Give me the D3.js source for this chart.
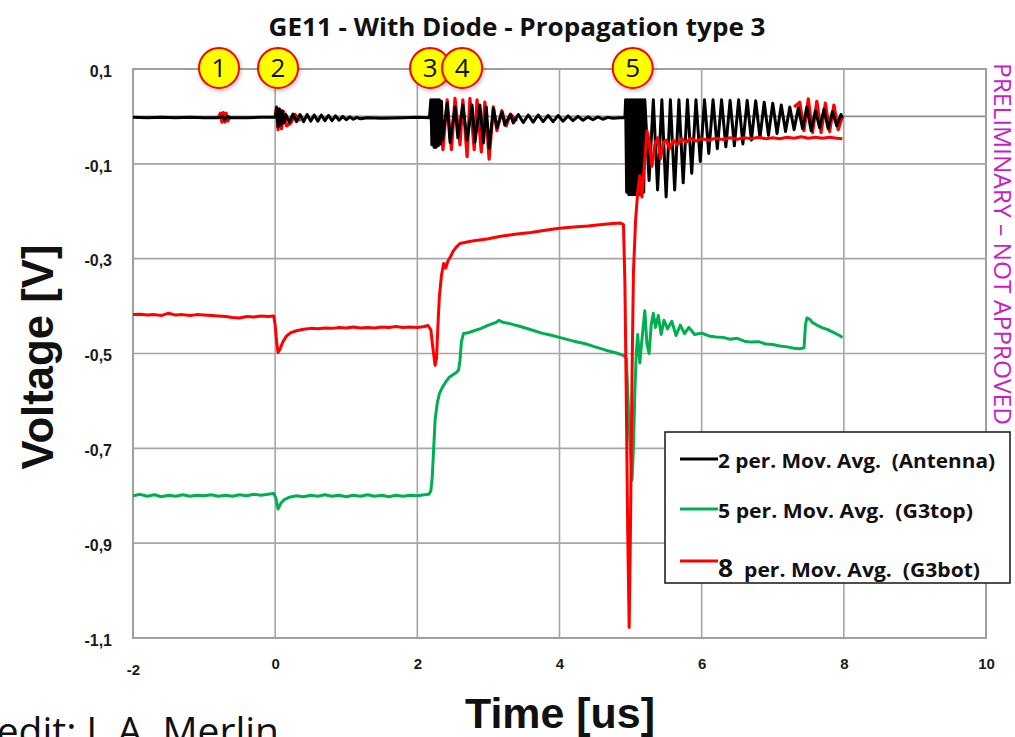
<!DOCTYPE html>
<html><head><meta charset="utf-8">
<script src="https://cdn.jsdelivr.net/npm/d3@7"></script>
<style>body{margin:0;background:#fff;} svg{display:block;} text{white-space:pre;}</style>
</head><body><svg id="c" width="1015" height="737"></svg>
<script>
// ---------- data ----------
const xTicks = [-2, 0, 2, 4, 6, 8, 10];
const yTicks = [0.1, -0.1, -0.3, -0.5, -0.7, -0.9, -1.1];
const title = "GE11 - With Diode - Propagation type 3";
const seriesNames = ["2 per. Mov. Avg.  (Antenna)", "5 per. Mov. Avg.  (G3top)", "8  per. Mov. Avg.  (G3bot)"];
const markerLabels = ["1", "2", "3", "4", "5"];
const markerTimes = [-0.79, 0.04, 2.18, 2.63, 5.03];

// 2 per. Mov. Avg. (Antenna) [time us, volts]
const antennaAvg = [
 [-2,-0.002],[-1.8,-0.003],[-1.6,-0.002],[-1.4,-0.003],[-1.2,-0.002],[-1.0,-0.003],[-0.8,-0.003],[-0.74,0.0],[-0.71,-0.006],[-0.67,0.0],[-0.63,-0.003],[-0.4,-0.003],[-0.2,-0.002],[0.0,-0.002],
 [0.02,0.018],[0.04,-0.022],[0.06,0.015],[0.08,-0.018],[0.10,0.012],[0.12,-0.014],[0.15,0.004],
 [0.2,-0.012],[0.25,0.005],[0.3,-0.011],[0.35,0.004],[0.4,-0.011],[0.45,0.004],[0.5,-0.010],[0.55,0.003],[0.6,-0.010],[0.65,0.003],[0.7,-0.009],[0.75,0.002],[0.8,-0.009],[0.85,0.001],[0.9,-0.008],[0.95,0.0],[1.0,-0.007],[1.05,-0.001],[1.1,-0.006],[1.15,-0.002],[1.2,-0.005],[1.3,-0.003],[1.5,-0.004],[1.8,-0.003],[2.0,-0.002],[2.17,-0.003],
 [2.19,0.035],[2.205,-0.06],[2.22,0.035],[2.235,-0.065],[2.25,0.035],[2.265,-0.065],[2.28,0.035],[2.295,-0.062],[2.31,0.035],[2.325,-0.058],[2.34,0.032],[2.355,-0.05],
 [2.42,0.028],[2.46,-0.055],[2.53,0.02],[2.57,-0.045],[2.64,0.024],[2.70,-0.05],[2.77,0.024],[2.81,-0.054],[2.88,0.024],[2.93,-0.056],[2.97,0.02],[3.01,-0.067],[3.07,0.017],[3.12,-0.024],[3.19,0.009],[3.23,-0.018],[3.31,0.004],[3.35,-0.014],
 [3.42,0.004],[3.49,-0.013],[3.56,0.003],[3.63,-0.012],[3.70,0.003],[3.77,-0.011],[3.84,0.002],[3.91,-0.011],[3.98,0.002],[4.05,-0.010],[4.12,0.001],[4.19,-0.009],[4.26,0.0],[4.33,-0.008],[4.40,-0.001],[4.47,-0.007],[4.54,-0.001],[4.61,-0.006],[4.68,-0.002],[4.75,-0.004],[4.85,-0.003],[4.92,-0.003],
 [4.93,0.035],[4.945,-0.16],[4.96,0.035],[4.975,-0.165],[4.99,0.035],[5.005,-0.165],[5.02,0.035],[5.035,-0.165],[5.05,0.035],[5.065,-0.165],[5.08,0.035],[5.095,-0.165],[5.11,0.035],[5.125,-0.165],[5.14,0.035],[5.155,-0.165],[5.17,0.035],[5.185,-0.16],[5.20,0.035],
 [5.26,-0.135],[5.32,0.035],[5.38,-0.155],[5.44,0.035],[5.50,-0.17],[5.56,0.035],[5.62,-0.155],[5.68,0.035],[5.74,-0.14],[5.80,0.035],[5.86,-0.12],[5.92,0.035],[5.98,-0.095],[6.04,0.035],[6.10,-0.078],[6.16,0.035],[6.22,-0.068],[6.28,0.035],[6.34,-0.064],[6.40,0.034],[6.46,-0.062],[6.52,0.035],[6.58,-0.058],[6.64,0.034],[6.70,-0.05],[6.76,0.033],[6.82,-0.045],[6.88,0.03],[6.94,-0.04],[7.00,0.028],[7.06,-0.036],[7.12,0.024],[7.18,-0.032],[7.24,0.02],[7.30,-0.028],[7.36,0.018],[7.42,-0.026],[7.48,0.02],[7.54,-0.03],[7.60,0.012],[7.66,-0.024],[7.72,0.015],[7.78,-0.026],[7.84,0.01],[7.90,-0.02],[7.96,0.004],[7.98,-0.003]
];

// raw antenna samples visible behind the average (red), null = gap
const antennaRaw = [
 [-0.8,-0.003],[-0.77,0.007],[-0.75,-0.012],[-0.73,0.008],[-0.71,-0.012],[-0.69,0.007],[-0.67,-0.01],[-0.64,-0.002],[-0.6,null],
 [0.0,-0.002],[0.02,0.02],[0.04,-0.028],[0.06,0.016],[0.09,-0.026],[0.12,0.01],[0.16,-0.02],[0.22,-0.014],[0.28,0.004],[0.35,-0.01],[0.4,null],
 [2.18,-0.003],[2.2,0.03],[2.25,-0.065],[2.3,0.03],[2.36,-0.07],[2.42,0.035],[2.48,-0.07],[2.53,0.038],[2.60,-0.06],[2.64,0.035],[2.70,-0.085],[2.74,0.038],[2.80,-0.07],[2.84,0.035],[2.90,-0.075],[2.95,0.03],[3.01,-0.09],[3.07,0.02],[3.12,-0.03],[3.19,0.012],[3.25,-0.02],[3.31,0.005],[3.4,-0.01],[3.45,null],
 [7.3,0.02],[7.38,0.03],[7.44,-0.03],[7.5,0.037],[7.56,-0.034],[7.62,0.032],[7.68,-0.034],[7.74,0.028],[7.8,-0.032],[7.86,0.024],[7.92,-0.028],[7.98,0.0]
];

// 5 per. Mov. Avg. (G3top)
const g3top = [
 [-2,-0.80],[-1.9,-0.797],[-1.8,-0.801],[-1.7,-0.798],[-1.6,-0.802],[-1.5,-0.799],[-1.4,-0.801],[-1.3,-0.798],[-1.2,-0.801],[-1.1,-0.799],[-1.0,-0.80],[-0.9,-0.798],[-0.8,-0.801],[-0.7,-0.799],[-0.6,-0.801],[-0.5,-0.798],[-0.4,-0.80],[-0.3,-0.797],[-0.2,-0.799],[-0.1,-0.797],[-0.02,-0.795],
 [0.01,-0.805],[0.04,-0.828],[0.08,-0.816],[0.13,-0.808],[0.2,-0.803],[0.3,-0.80],[0.4,-0.802],[0.5,-0.799],[0.6,-0.801],[0.7,-0.798],[0.8,-0.801],[0.9,-0.799],[1.0,-0.802],[1.1,-0.799],[1.2,-0.801],[1.3,-0.798],[1.4,-0.801],[1.5,-0.799],[1.6,-0.802],[1.7,-0.799],[1.8,-0.801],[1.9,-0.799],[2.0,-0.80],[2.1,-0.798],[2.16,-0.797],
 [2.19,-0.79],[2.21,-0.76],[2.23,-0.70],[2.25,-0.64],[2.28,-0.605],[2.31,-0.585],[2.35,-0.572],[2.4,-0.56],[2.45,-0.55],[2.5,-0.545],[2.55,-0.54],[2.58,-0.535],[2.6,-0.515],[2.62,-0.475],[2.65,-0.458],[2.7,-0.457],[2.8,-0.452],[2.9,-0.447],[3.0,-0.44],[3.1,-0.435],[3.15,-0.43],[3.2,-0.434],[3.3,-0.437],[3.45,-0.443],[3.6,-0.45],[3.75,-0.457],[3.9,-0.462],[4.05,-0.468],[4.2,-0.474],[4.35,-0.479],[4.5,-0.486],[4.65,-0.493],[4.8,-0.499],[4.9,-0.504],[4.94,-0.51],
 [4.96,-0.58],[4.98,-0.66],[5.0,-0.71],[5.02,-0.767],[5.04,-0.70],[5.06,-0.58],[5.08,-0.50],[5.1,-0.46],[5.13,-0.52],[5.16,-0.47],[5.2,-0.41],[5.23,-0.48],[5.26,-0.50],[5.29,-0.44],[5.32,-0.415],[5.35,-0.445],[5.39,-0.42],[5.43,-0.46],[5.47,-0.43],[5.52,-0.448],[5.58,-0.432],[5.64,-0.462],[5.7,-0.44],[5.76,-0.458],[5.82,-0.445],[5.9,-0.46],[6.0,-0.457],[6.1,-0.463],[6.2,-0.465],[6.3,-0.466],[6.4,-0.47],[6.5,-0.468],[6.6,-0.474],[6.7,-0.476],[6.8,-0.475],[6.9,-0.48],[7.0,-0.481],[7.1,-0.484],[7.2,-0.486],[7.3,-0.489],[7.38,-0.49],[7.44,-0.488],
 [7.46,-0.44],[7.48,-0.425],[7.52,-0.428],[7.56,-0.435],[7.62,-0.44],[7.7,-0.446],[7.78,-0.45],[7.86,-0.456],[7.94,-0.462],[7.98,-0.466]
];

// 8 per. Mov. Avg. (G3bot)
const g3bot = [
 [-2,-0.418],[-1.9,-0.417],[-1.8,-0.419],[-1.7,-0.418],[-1.6,-0.42],[-1.5,-0.415],[-1.4,-0.419],[-1.3,-0.418],[-1.2,-0.42],[-1.1,-0.418],[-1.0,-0.419],[-0.9,-0.42],[-0.8,-0.421],[-0.7,-0.422],[-0.6,-0.424],[-0.5,-0.425],[-0.4,-0.422],[-0.3,-0.423],[-0.2,-0.421],[-0.1,-0.422],[-0.02,-0.421],
 [0.0,-0.44],[0.02,-0.475],[0.04,-0.498],[0.07,-0.49],[0.11,-0.475],[0.16,-0.463],[0.22,-0.456],[0.3,-0.452],[0.4,-0.449],[0.5,-0.447],[0.6,-0.448],[0.7,-0.446],[0.8,-0.447],[0.9,-0.445],[1.0,-0.446],[1.1,-0.444],[1.2,-0.446],[1.3,-0.445],[1.4,-0.446],[1.5,-0.444],[1.6,-0.445],[1.7,-0.443],[1.8,-0.445],[1.9,-0.444],[2.0,-0.445],[2.1,-0.443],[2.15,-0.441],
 [2.19,-0.45],[2.22,-0.49],[2.25,-0.525],[2.27,-0.51],[2.29,-0.44],[2.31,-0.38],[2.34,-0.335],[2.37,-0.31],[2.4,-0.32],[2.43,-0.305],[2.47,-0.295],[2.5,-0.285],[2.55,-0.275],[2.6,-0.268],[2.7,-0.265],[2.8,-0.262],[2.9,-0.26],[3.0,-0.258],[3.1,-0.255],[3.2,-0.252],[3.4,-0.248],[3.6,-0.245],[3.8,-0.24],[4.0,-0.236],[4.2,-0.233],[4.4,-0.231],[4.6,-0.228],[4.75,-0.226],[4.86,-0.225],[4.9,-0.228],
 [4.92,-0.35],[4.94,-0.6],[4.96,-0.88],[4.98,-1.078],[5.0,-0.85],[5.02,-0.55],[5.04,-0.33],[5.07,-0.22],[5.1,-0.16],[5.13,-0.125],[5.16,-0.17],[5.19,-0.11],[5.23,-0.03],[5.26,-0.05],[5.3,-0.105],[5.34,-0.06],[5.38,-0.045],[5.42,-0.09],[5.46,-0.055],[5.5,-0.05],[5.55,-0.068],[5.6,-0.05],[5.66,-0.06],[5.72,-0.046],[5.78,-0.055],[5.85,-0.046],[5.92,-0.052],[6.0,-0.047],[6.1,-0.05],[6.2,-0.046],[6.3,-0.049],[6.4,-0.045],[6.5,-0.048],[6.6,-0.045],[6.7,-0.047],[6.8,-0.044],[6.9,-0.047],[7.0,-0.045],[7.1,-0.047],[7.2,-0.044],[7.3,-0.046],[7.4,-0.043],[7.5,-0.046],[7.6,-0.044],[7.7,-0.046],[7.8,-0.044],[7.9,-0.046],[7.98,-0.047]
];

// ---------- drawing ----------
const svg = d3.select("#c");
const x = d3.scaleLinear().domain([-2, 10]).range([133, 986]);
const y = d3.scaleLinear().domain([-1.1, 0.1]).range([638, 69]);
const fmtY = d => d3.format(".1f")(d).replace(".", ",").replace("\u2212", "-");

const defs = svg.append("defs");
const f = defs.append("filter").attr("id", "sh").attr("x", "-50%").attr("y", "-50%").attr("width", "200%").attr("height", "200%");
f.append("feDropShadow").attr("dx", 1).attr("dy", 2).attr("stdDeviation", 2).attr("flood-color", "#000").attr("flood-opacity", 0.25);

// gridlines
const grid = svg.append("g");
grid.selectAll("line.v").data(xTicks).join("line")
  .attr("x1", d => x(d)).attr("x2", d => x(d)).attr("y1", y(0.1)).attr("y2", y(-1.1))
  .attr("stroke", "#a6a6a6").attr("stroke-width", 1.6);
grid.selectAll("line.h").data(yTicks).join("line")
  .attr("x1", x(-2)).attr("x2", x(10)).attr("y1", d => y(d)).attr("y2", d => y(d))
  .attr("stroke", "#a6a6a6").attr("stroke-width", 1.6);
// horizontal axis line crossing at 0
grid.append("line").attr("x1", x(-2)).attr("x2", x(10)).attr("y1", y(0)).attr("y2", y(0))
  .attr("stroke", "#8c8c8c").attr("stroke-width", 1.6);
grid.append("rect").attr("x", x(-2)).attr("y", y(0.1)).attr("width", x(10) - x(-2)).attr("height", y(-1.1) - y(0.1))
  .attr("fill", "none").attr("stroke", "#a0a0a0").attr("stroke-width", 2);

// axes labels
const yAx = svg.append("g").attr("transform", `translate(${x(-2)},0)`)
  .call(d3.axisLeft(y).tickValues(yTicks).tickFormat(fmtY).tickSize(0).tickPadding(21));
yAx.select(".domain").remove();
yAx.selectAll("text").attr("font-family", "Liberation Sans, Arial, sans-serif").attr("font-weight", "bold")
  .attr("font-size", 16).attr("fill", "#1a1a1a").attr("dy", "0.45em");

const xAx = svg.append("g").attr("transform", `translate(0,${y(-1.1)})`)
  .call(d3.axisBottom(x).tickValues(xTicks).tickFormat(d => String(d)).tickSize(0).tickPadding(23));
xAx.select(".domain").remove();
xAx.selectAll("text").attr("font-family", "Liberation Sans, Arial, sans-serif").attr("font-weight", "bold")
  .attr("font-size", 15).attr("fill", "#1a1a1a").attr("dy", (d, i) => i === 0 ? "0.95em" : "0.55em");

// series
const line = d3.line().defined(d => d[1] !== null).x(d => x(d[0])).y(d => y(d[1]));
const plot = svg.append("g");
plot.append("path").datum(antennaRaw).attr("d", line).attr("fill", "none").attr("stroke", "#ff0000").attr("stroke-width", 3.2).attr("stroke-linejoin", "round");
plot.append("path").datum(antennaAvg).attr("d", line).attr("fill", "none").attr("stroke", "#000").attr("stroke-width", 3).attr("stroke-linejoin", "round");
plot.append("path").datum(g3top).attr("d", line).attr("fill", "none").attr("stroke", "#00b050").attr("stroke-width", 3).attr("stroke-linejoin", "round");
plot.append("path").datum(g3bot).attr("d", line).attr("fill", "none").attr("stroke", "#ff0000").attr("stroke-width", 3).attr("stroke-linejoin", "round");

// title
svg.append("text").attr("x", 517).attr("y", 36).attr("text-anchor", "middle")
  .attr("font-family", "Open Sans, Lato, sans-serif").attr("font-weight", "bold").attr("font-size", 25)
  .attr("textLength", 497).attr("lengthAdjust", "spacingAndGlyphs").attr("fill", "#111").text(title);

// axis titles
svg.append("text").attr("x", 560).attr("y", 728).attr("text-anchor", "middle")
  .attr("font-family", "Liberation Sans, Arial, sans-serif").attr("font-weight", "bold").attr("font-size", 42)
  .attr("textLength", 190).attr("lengthAdjust", "spacingAndGlyphs").attr("fill", "#111").text("Time [us]");
svg.append("text").attr("transform", "translate(53,357) rotate(-90)").attr("text-anchor", "middle")
  .attr("font-family", "Liberation Sans, Arial, sans-serif").attr("font-weight", "bold").attr("font-size", 44)
  .attr("textLength", 225).attr("lengthAdjust", "spacingAndGlyphs").attr("fill", "#111").text("Voltage [V]");

// preliminary
svg.append("text").attr("transform", "translate(994,244) rotate(90)").attr("text-anchor", "middle")
  .attr("font-family", "Open Sans, Lato, sans-serif").attr("font-size", 24)
  .attr("textLength", 362).attr("lengthAdjust", "spacingAndGlyphs").attr("fill", "#c81ec8")
  .text("PRELIMINARY \u2013 NOT APPROVED");

// credit (left part runs off the page, as in the source slide)
svg.append("text").attr("x", 279).attr("y", 745).attr("text-anchor", "end")
  .attr("font-family", "Open Sans, Lato, sans-serif").attr("font-size", 39).attr("fill", "#111")
  .text("Credit: J. A. Merlin");

// legend
const lg = svg.append("g");
lg.append("rect").attr("x", 665).attr("y", 432).attr("width", 345).attr("height", 151)
  .attr("fill", "#fff").attr("stroke", "#222").attr("stroke-width", 1.6);
const lgColors = ["#000", "#00b050", "#ff0000"];
const lgY = [459, 509, 561];
const lgBase = [468, 518, 577];
const lgLen = [277, 255, 262];
seriesNames.forEach((n, i) => {
  lg.append("line").attr("x1", 680).attr("x2", 718).attr("y1", lgY[i]).attr("y2", lgY[i])
    .attr("stroke", lgColors[i]).attr("stroke-width", 3);
  const t = lg.append("text").attr("x", 718).attr("y", lgBase[i]).attr("font-family", "Open Sans, Lato, sans-serif")
    .attr("font-weight", "bold").attr("font-size", 20).attr("fill", "#111")
    .attr("textLength", lgLen[i]).attr("lengthAdjust", "spacingAndGlyphs");
  if (i === 2) {
    t.append("tspan").attr("font-size", 25).text(n.slice(0, 1));
    t.append("tspan").text(n.slice(1));
  } else {
    t.text(n);
  }
});

// numbered markers
const mk = svg.append("g");
markerLabels.forEach((lab, i) => {
  const cx = x(markerTimes[i]), cy = y(0.1) - 1;
  const g = mk.append("g").attr("transform", `translate(${cx},${cy})`);
  g.append("circle").attr("r", 20).attr("fill", "#ffff00").attr("stroke", "#ff0000").attr("stroke-width", 2).attr("filter", "url(#sh)");
  g.append("text").attr("y", 9).attr("text-anchor", "middle").attr("font-family", "Open Sans, Lato, sans-serif")
    .attr("font-size", 26).attr("fill", "#111").text(lab);
});
</script></body></html>
